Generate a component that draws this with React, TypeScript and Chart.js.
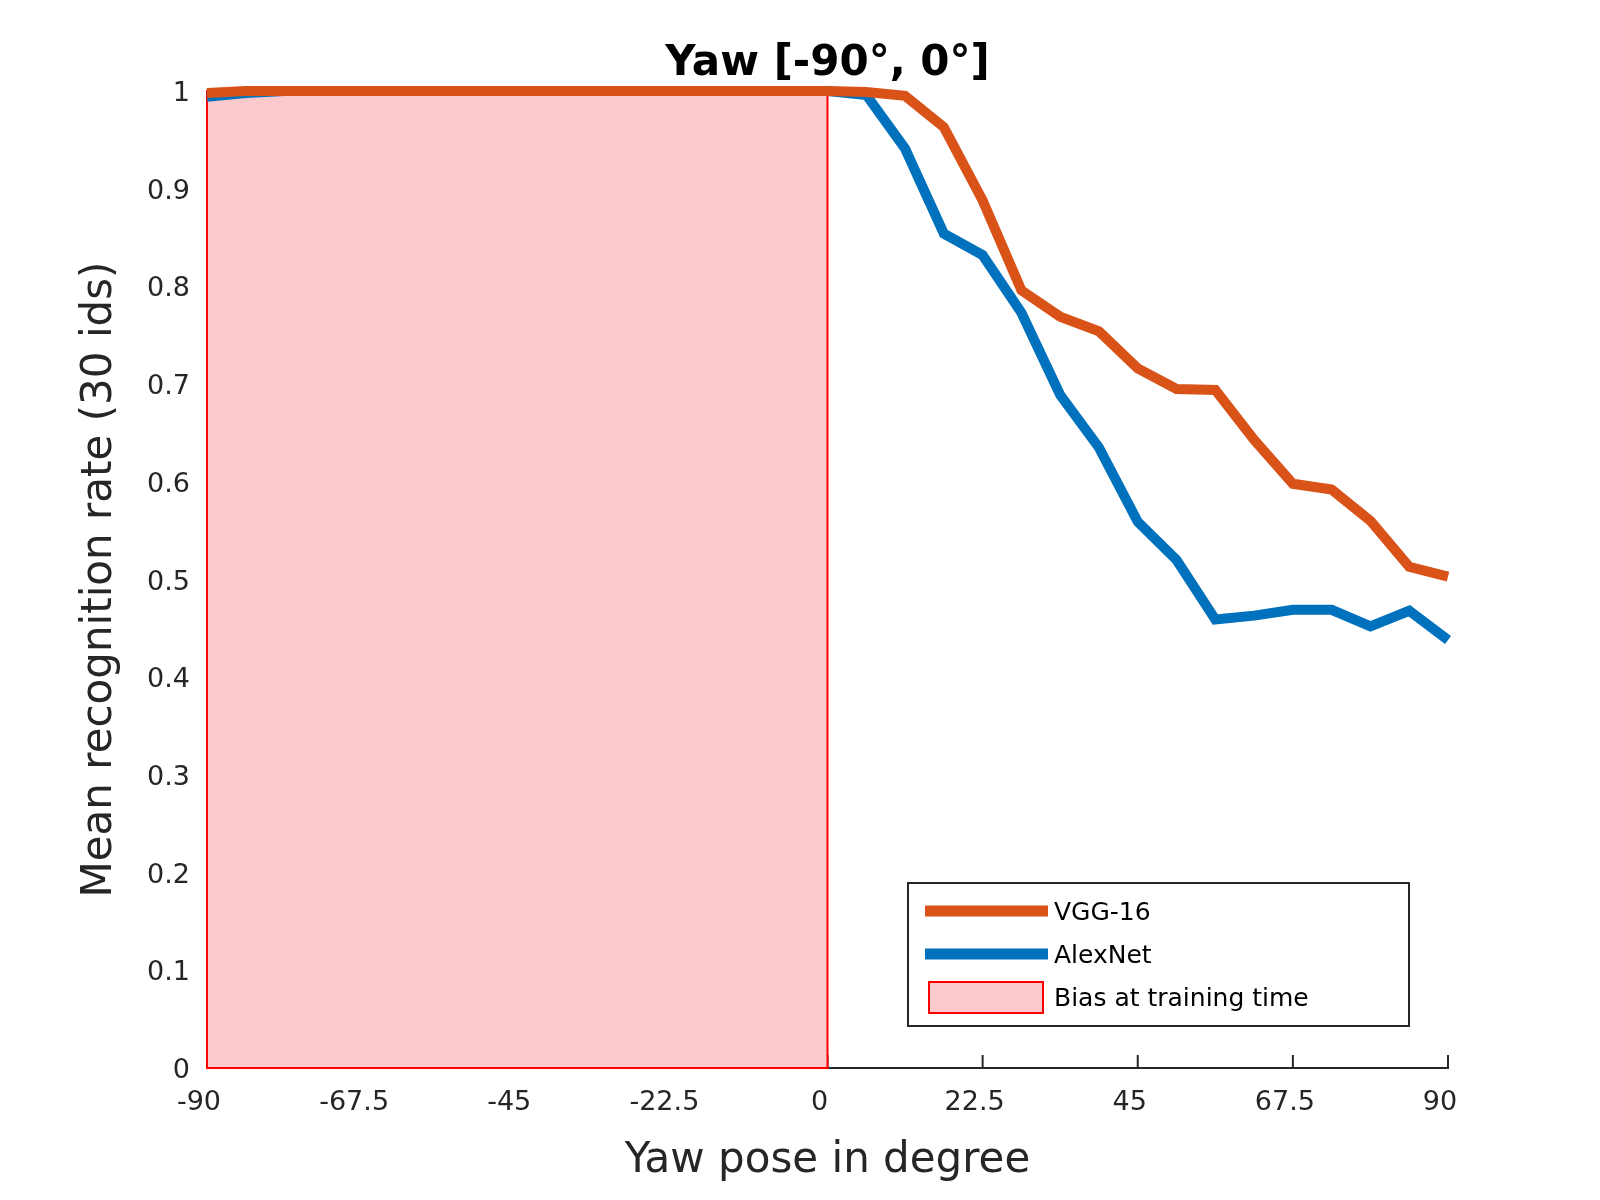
import { useEffect, useRef } from 'react'
import Chart from 'chart.js/auto'

// yaw angle of each sample, in degrees
const yawAngles = [
  -90, -84.375, -78.75, -73.125, -67.5, -61.875, -56.25, -50.625, -45, -39.375, -33.75,
  -28.125, -22.5, -16.875, -11.25, -5.625, 0, 5.625, 11.25, 16.875, 22.5, 28.125, 33.75,
  39.375, 45, 50.625, 56.25, 61.875, 67.5, 73.125, 78.75, 84.375, 90,
]

const vgg16 = [
  0.998, 1, 1, 1, 1, 1, 1, 1, 1, 1, 1, 1, 1, 1, 1, 1, 1,
  0.999, 0.995, 0.963, 0.888, 0.796, 0.769, 0.754, 0.716, 0.695, 0.694, 0.643, 0.598, 0.592,
  0.56, 0.513, 0.503,
]

const alexNet = [
  0.994, 0.998, 1, 1, 1, 1, 1, 1, 1, 1, 1, 1, 1, 1, 1, 1, 1,
  0.996, 0.941, 0.854, 0.832, 0.773, 0.689, 0.635, 0.559, 0.52, 0.459, 0.463, 0.469, 0.469,
  0.452, 0.468, 0.438,
]

const xTicks = [-90, -67.5, -45, -22.5, 0, 22.5, 45, 67.5, 90]
const biasRange = [-90, 0]

const ORANGE = '#D95319'
const BLUE = '#0072BD'
const PATCH_FILL = 'rgb(252, 202, 205)'
const PATCH_EDGE = '#FF0000'
const AXIS = '#262626'
const FONT = 'DejaVu Sans'

const biasPatch = {
  id: 'biasPatch',
  beforeDatasetsDraw(chart: Chart) {
    const { ctx } = chart
    const x = chart.scales.x
    const y = chart.scales.y
    const y0 = y.getPixelForValue(0)
    const y1 = y.getPixelForValue(1)
    ctx.save()
    // inward tick marks (the patch hides the left ones, as in the original)
    ctx.strokeStyle = AXIS
    ctx.lineWidth = 2
    x.ticks.forEach((t) => {
      const px = x.getPixelForValue(t.value)
      ctx.beginPath()
      ctx.moveTo(px, y0)
      ctx.lineTo(px, y0 - 13)
      ctx.stroke()
    })
    const left = x.getPixelForValue(biasRange[0])
    const right = x.getPixelForValue(biasRange[1])
    ctx.fillStyle = PATCH_FILL
    ctx.fillRect(left, y1, right - left, y0 - y1)
    ctx.strokeStyle = PATCH_EDGE
    ctx.lineWidth = 2
    ctx.strokeRect(left, y1, right - left, y0 - y1)
    ctx.restore()
  },
}

const boxLegend = {
  id: 'boxLegend',
  afterDatasetsDraw(chart: Chart) {
    const { ctx, chartArea } = chart
    const right = chartArea.right - 39
    const bottom = chartArea.bottom - 42
    const w = 501
    const h = 143
    const left = right - w
    const top = bottom - h
    ctx.save()
    ctx.fillStyle = '#ffffff'
    ctx.fillRect(left, top, w, h)
    ctx.strokeStyle = AXIS
    ctx.lineWidth = 2
    ctx.strokeRect(left, top, w, h)

    const rows = [
      { label: 'VGG-16', color: ORANGE, y: top + 28 },
      { label: 'AlexNet', color: BLUE, y: top + 71 },
    ]
    rows.forEach((r) => {
      ctx.strokeStyle = r.color
      ctx.lineWidth = 11
      ctx.beginPath()
      ctx.moveTo(left + 17, r.y)
      ctx.lineTo(left + 140, r.y)
      ctx.stroke()
    })
    ctx.fillStyle = PATCH_FILL
    ctx.fillRect(left + 21, top + 99, 114, 31)
    ctx.strokeStyle = PATCH_EDGE
    ctx.lineWidth = 2
    ctx.strokeRect(left + 21, top + 99, 114, 31)

    ctx.fillStyle = '#000000'
    ctx.font = `25px "${FONT}"`
    ctx.textBaseline = 'middle'
    ctx.textAlign = 'left'
    rows.forEach((r) => ctx.fillText(r.label, left + 146, r.y + 2))
    ctx.fillText('Bias at training time', left + 146, top + 116)
    ctx.restore()
  },
}

export default function App() {
  const canvasRef = useRef<HTMLCanvasElement>(null)
  const chartRef = useRef<Chart | null>(null)

  useEffect(() => {
    const canvas = canvasRef.current
    if (!canvas) return

    if (chartRef.current) {
      chartRef.current.destroy()
    }

    chartRef.current = new Chart(canvas, {
      type: 'line',
      data: {
        datasets: [
          {
            label: 'VGG-16',
            data: yawAngles.map((a, i) => ({ x: a, y: vgg16[i] })),
            borderColor: ORANGE,
            borderWidth: 10,
            pointRadius: 0,
            tension: 0,
            clip: false,
          },
          {
            label: 'AlexNet',
            data: yawAngles.map((a, i) => ({ x: a, y: alexNet[i] })),
            borderColor: BLUE,
            borderWidth: 10,
            pointRadius: 0,
            tension: 0,
            clip: false,
          },
        ],
      },
      options: {
        animation: false,
        responsive: true,
        maintainAspectRatio: false,
        devicePixelRatio: 1,
        layout: { padding: { left: 0, right: 152, top: 0, bottom: 0 } },
        plugins: {
          legend: { display: false },
          tooltip: { enabled: false },
          title: {
            display: true,
            fullSize: false,
            text: 'Yaw [-90°, 0°]',
            color: '#000000',
            font: { family: FONT, size: 42, weight: 'bold', lineHeight: 1.2 },
            padding: { top: 39, bottom: 1.6 },
          },
        },
        scales: {
          x: {
            type: 'linear',
            min: -90,
            max: 90,
            afterBuildTicks: (scale) => {
              scale.ticks = xTicks.map((v) => ({ value: v }))
            },
            afterFit: (scale) => {
              scale.height = 132
            },
            grid: { display: false, drawTicks: false },
            border: { display: true, color: AXIS, width: 2 },
            ticks: {
              autoSkip: false,
              maxRotation: 0,
              padding: 19,
              labelOffset: -8,
              color: AXIS,
              font: { family: FONT, size: 27 },
              callback: (v) => String(v),
            },
            title: {
              display: true,
              text: 'Yaw pose in degree',
              color: AXIS,
              font: { family: FONT, size: 42, lineHeight: 1.2 },
              padding: { top: 0, bottom: 14 },
            },
          },
          y: {
            type: 'linear',
            min: 0,
            max: 1,
            afterFit: (scale) => {
              scale.width = 207
            },
            grid: { display: false, drawTicks: false },
            border: { display: false },
            ticks: {
              stepSize: 0.1,
              padding: 17,
              labelOffset: 3,
              color: AXIS,
              font: { family: FONT, size: 27 },
              callback: (v) => String(Math.round(Number(v) * 10) / 10),
            },
            title: {
              display: true,
              text: 'Mean recognition rate (30 ids)',
              color: AXIS,
              font: { family: FONT, size: 42, lineHeight: 1.2 },
              padding: { top: 75, bottom: 0 },
            },
          },
        },
      },
      plugins: [biasPatch, boxLegend],
    })

    return () => {
      if (chartRef.current) {
        chartRef.current.destroy()
        chartRef.current = null
      }
    }
  }, [])

  return (
    <div style={{ position: 'absolute', left: 0, top: 0, width: 1600, height: 1200, background: '#fff' }}>
      <canvas ref={canvasRef} />
    </div>
  )
}
